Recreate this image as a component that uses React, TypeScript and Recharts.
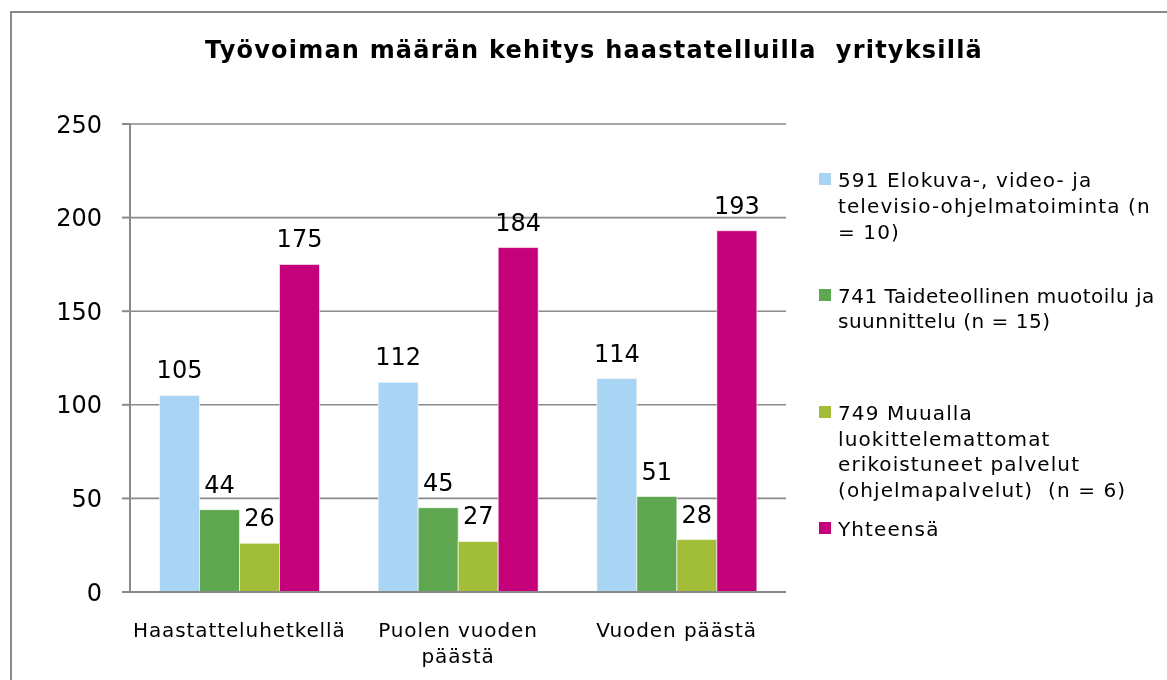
import React from "react";
import { BarChart, Bar, XAxis, YAxis, CartesianGrid, Legend, LabelList } from "recharts";

const categories = ["Haastatteluhetkellä", "Puolen vuoden päästä", "Vuoden päästä"];
const categoryLines = [["Haastatteluhetkellä"], ["Puolen vuoden", "päästä"], ["Vuoden päästä"]];
const elokuva = [105, 112, 114];
const taide = [44, 45, 51];
const muualla = [26, 27, 28];
const yhteensa = [175, 184, 193];
const seriesKeys = ["elokuva", "taide", "muualla", "yhteensa"];
const seriesNames = [
  "591 Elokuva-, video- ja televisio-ohjelmatoiminta (n = 10)",
  "741 Taideteollinen muotoilu ja suunnittelu (n = 15)",
  "749 Muualla luokittelemattomat erikoistuneet palvelut (ohjelmapalvelut)  (n = 6)",
  "Yhteensä",
];
const legendLines = [
  ["591 Elokuva-, video- ja", "televisio-ohjelmatoiminta (n", "= 10)"],
  ["741 Taideteollinen muotoilu ja", "suunnittelu (n = 15)"],
  ["749 Muualla", "luokittelemattomat", "erikoistuneet palvelut", "(ohjelmapalvelut)  (n = 6)"],
  ["Yhteensä"],
];
const seriesColors = ["#A9D4F4", "#5EA650", "#A2BD37", "#C4007A"];
const yTicks = [0, 50, 100, 150, 200, 250];
const edgeTicks = [0, 1, 2, 3];
const title = "Työvoiman määrän kehitys haastatelluilla  yrityksillä";

const data = categories.map((c, i) => ({
  cat: c,
  elokuva: elokuva[i],
  taide: taide[i],
  muualla: muualla[i],
  yhteensa: yhteensa[i],
}));

const FONT = "'DejaVu Sans', Verdana, sans-serif";
const legendTops = [160.2, 275.5, 392.9, 508.9];
const legendSpacing = [1.1, 0.5, 1.1, 1.1];

const CatTick = (props: any) => {
  const { x, y, payload, index } = props;
  const idx = categories.indexOf(payload.value);
  const lines = categoryLines[idx >= 0 ? idx : index] || [String(payload.value)];
  return (
    <text x={x} y={y} textAnchor="middle" fill="#000" fontSize={20} fontFamily={FONT} letterSpacing={0.9}>
      {lines.map((l: string, i: number) => (
        <tspan key={i} x={x} dy={i === 0 ? 37 : 25.5}>
          {l}
        </tspan>
      ))}
    </text>
  );
};

const LegendContent = (props: any) => {
  const payload = props.payload || [];
  return (
    <div style={{ position: "relative", width: 0, height: 0 }}>
      {seriesKeys.map((k, i) => {
        const entry = payload.find((p: any) => p.dataKey === k);
        const color = entry ? entry.color : seriesColors[i];
        return (
          <div
            key={k}
            style={{
              position: "absolute",
              left: 811,
              top: legendTops[i],
              width: 340,
              fontFamily: FONT,
              fontSize: 20,
              lineHeight: "25.7px",
              letterSpacing: legendSpacing[i],
              color: "#000",
              whiteSpace: "pre",
            }}
          >
            <div style={{ position: "absolute", left: 0, top: 5, width: 12, height: 12, background: color }} />
            <div style={{ marginLeft: 19 }}>
              {legendLines[i].map((l, j) => (
                <div key={j}>{l}</div>
              ))}
            </div>
          </div>
        );
      })}
    </div>
  );
};

export default function App() {
  return (
    <div style={{ position: "relative", width: 1151, height: 664, background: "#fff" }}>
      <div
        style={{
          position: "fixed",
          left: 10,
          top: 11,
          right: 0,
          bottom: 0,
          borderLeft: "2px solid #8a8a8a",
          borderTop: "2px solid #8a8a8a",
          pointerEvents: "none",
        }}
      />
      <div
        style={{
          position: "absolute",
          left: 186,
          top: 27.7,
          width: 800,
          textAlign: "center",
          fontFamily: FONT,
          fontWeight: "bold",
          fontSize: 24,
          lineHeight: "28px",
          letterSpacing: 1.2,
          whiteSpace: "pre",
          color: "#000",
        }}
      >
        {title}
      </div>
      <BarChart
        width={1151}
        height={664}
        data={data}
        margin={{ top: 116, right: 373, left: 0, bottom: 20 }}
        barCategoryGap="13.5%"
        barGap={0}
      >
        <CartesianGrid vertical={false} stroke="#8a8a8a" strokeWidth={1.6} xAxisId="cat" />
        <XAxis
          xAxisId="edge"
          type="number"
          domain={[0, 3]}
          ticks={edgeTicks}
          tick={false}
          axisLine={false}
          tickLine={{ stroke: "#8a8a8a", strokeWidth: 2 }}
          tickSize={7}
          height={0}
        />
        <XAxis
          xAxisId="cat"
          dataKey="cat"
          interval={0}
          tickLine={false}
          axisLine={{ stroke: "#8a8a8a", strokeWidth: 2 }}
          tick={<CatTick />}
          height={60}
        />
        <YAxis
          domain={[0, 250]}
          ticks={yTicks}
          width={122}
          axisLine={{ stroke: "#8a8a8a", strokeWidth: 2 }}
          tickLine={{ stroke: "#8a8a8a", strokeWidth: 2 }}
          tickSize={8}
          tickMargin={20}
          tick={{ fill: "#000", fontSize: 24, fontFamily: FONT }}
        />
        <Legend
          layout="horizontal"
          verticalAlign="middle"
          align="center"
          wrapperStyle={{ left: 0, top: 0, width: 0, height: 0 }}
          content={<LegendContent />}
        />
        {seriesKeys.map((k, i) => (
          <Bar
            key={k}
            xAxisId="cat"
            dataKey={k}
            name={seriesNames[i]}
            fill={seriesColors[i]}
            stroke="#ffffff"
            strokeOpacity={0.6}
            strokeWidth={1}
            isAnimationActive={false}
          >
            <LabelList dataKey={k} position="top" offset={17} fill="#000" fontSize={24} fontFamily={FONT} />
          </Bar>
        ))}
      </BarChart>
    </div>
  );
}
